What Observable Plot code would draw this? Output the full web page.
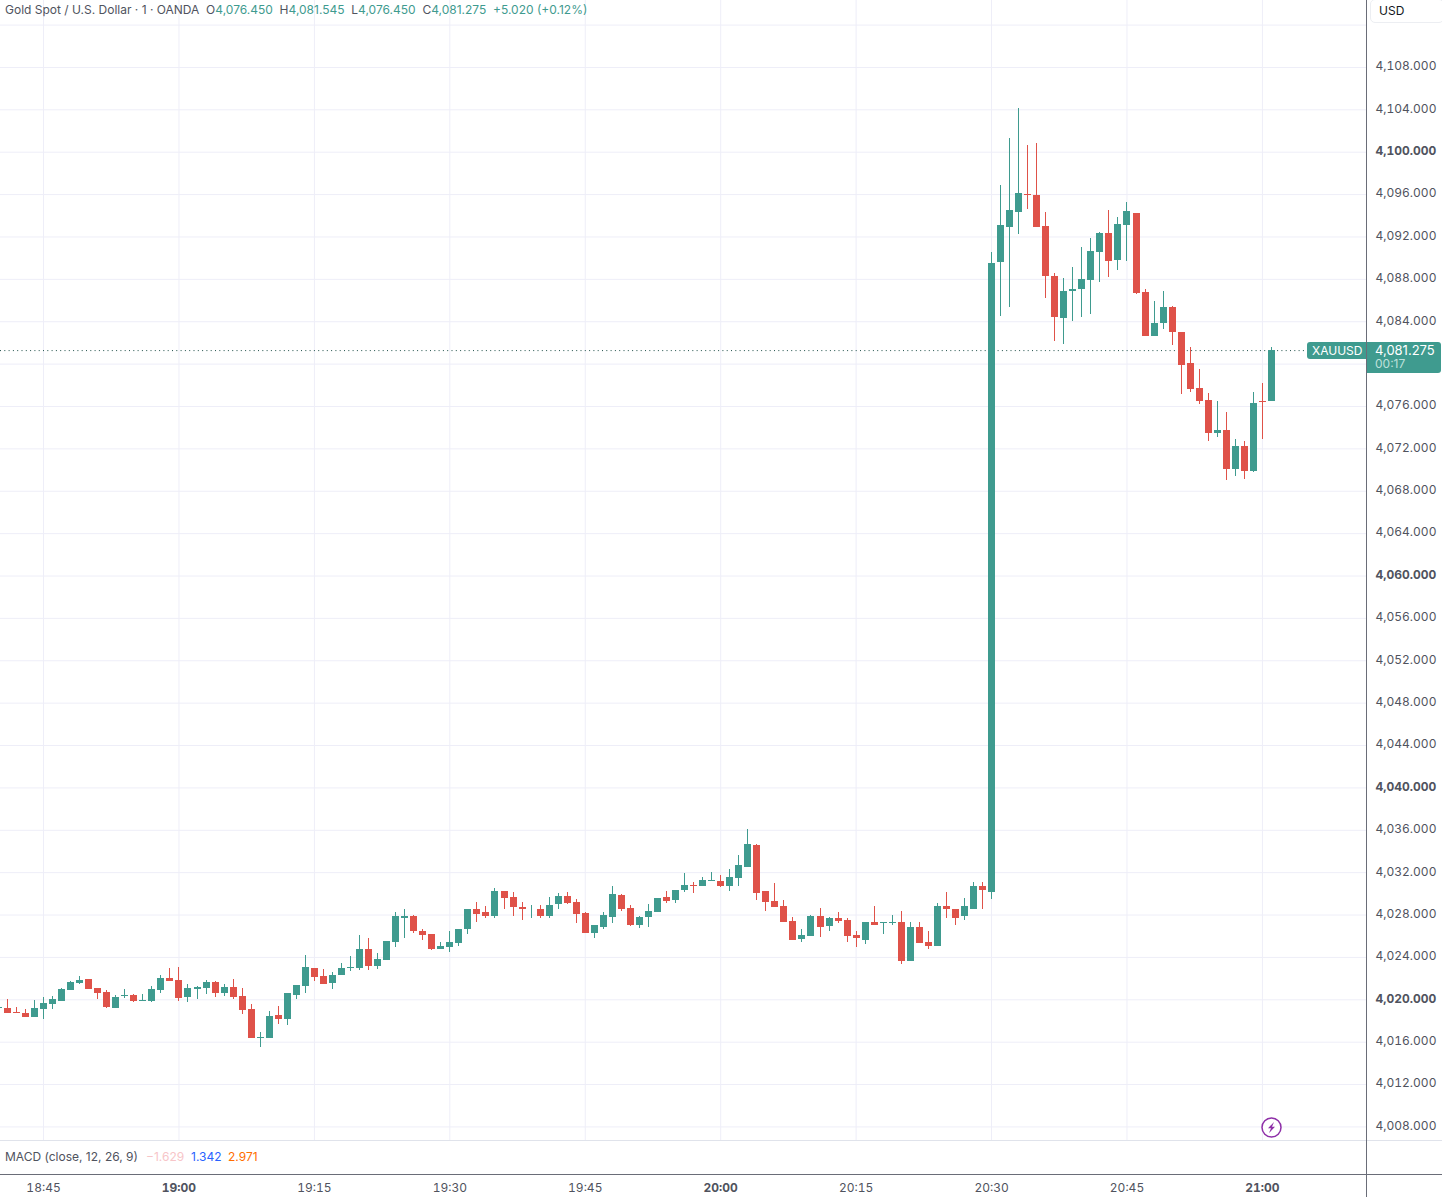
<!DOCTYPE html>
<html>
<head>
<meta charset="utf-8">
<script src="https://cdn.jsdelivr.net/npm/d3@7"></script>
<script src="https://cdn.jsdelivr.net/npm/@observablehq/plot@0.6"></script>
<style>
  html, body { margin: 0; padding: 0; background: #fff; }
  #wrap { position: relative; width: 1442px; height: 1197px; overflow: hidden; font-family: Inter, "Noto Sans", sans-serif; color: #50535e; }
  #wrap > div { position: absolute; white-space: nowrap; }
  .h { font-size: 12px; line-height: 16px; }
  .g { color: #3f9b8f; }
</style>
</head>
<body>
<div id="wrap"></div>
<script>
const startMinute = Date.UTC(2025, 0, 1, 18, 40);

const opens = [
  4019.18,4019.18,4018.80,4018.71,4018.33,4019.09,4019.56,4019.84,4020.88,4021.55,
  4021.92,4021.07,4020.69,4019.18,4020.32,4020.41,4019.84,4019.84,4020.88,4022.02,
  4021.83,4020.22,4020.98,4021.07,4021.64,4020.60,4021.17,4020.32,4019.09,4016.34,
  4016.34,4018.52,4018.14,4020.41,4021.26,4022.97,4022.21,4021.57,4022.33,4022.99,
  4022.99,4024.79,4023.18,4023.75,4025.45,4027.72,4027.82,4026.49,4026.21,4024.79,
  4024.98,4025.36,4026.68,4028.57,4028.20,4027.82,4030.18,4029.62,4028.67,4028.48,
  4028.48,4027.82,4028.95,4029.71,4029.14,4028.10,4026.30,4026.87,4027.75,4029.83,
  4028.60,4026.99,4027.75,4028.22,4029.64,4029.36,4030.30,4030.78,4030.68,4031.16,
  4031.16,4030.68,4031.44,4032.48,4034.56,4030.21,4029.26,4028.79,4027.37,4025.67,
  4025.95,4027.84,4026.90,4027.65,4027.44,4026.11,4025.64,4027.25,4027.16,4027.16,
  4027.25,4023.65,4026.78,4025.45,4025.07,4028.76,4028.57,4027.82,4028.57,4030.66,
  4030.09,4089.62,4092.93,4094.35,4096.05,4095.96,4093.02,4088.29,4084.32,4086.87,
  4087.06,4087.91,4090.56,4092.36,4089.81,4093.12,4094.25,4086.78,4082.61,4083.82,
  4085.33,4082.97,4080.03,4077.67,4076.53,4073.41,4073.69,4070.09,4072.18,4069.90,
  4076.43,4076.45
];
const highs = [
  4019.27,4020.03,4019.31,4019.05,4019.94,4020.22,4020.32,4021.07,4021.74,4022.21,
  4021.92,4021.07,4020.88,4020.41,4020.98,4020.50,4020.50,4021.26,4022.30,4022.97,
  4023.06,4021.45,4021.26,4021.83,4021.74,4021.45,4021.92,4021.07,4019.56,4016.91,
  4018.90,4019.37,4020.60,4021.36,4024.20,4022.97,4022.87,4022.61,4023.46,4024.13,
  4026.11,4025.74,4024.41,4025.55,4028.20,4028.48,4027.91,4026.68,4026.21,4025.45,
  4026.40,4026.68,4028.57,4029.14,4028.76,4030.47,4030.18,4030.09,4029.14,4028.86,
  4028.86,4029.62,4029.99,4030.09,4029.43,4028.20,4026.97,4028.20,4030.68,4029.92,
  4028.88,4027.84,4028.98,4029.55,4030.21,4030.30,4031.91,4031.06,4031.53,4032.01,
  4031.72,4032.29,4033.62,4036.08,4034.66,4030.21,4030.97,4029.36,4027.75,4026.61,
  4027.94,4028.60,4027.75,4028.22,4027.63,4026.49,4027.34,4028.76,4027.25,4027.91,
  4028.29,4027.25,4027.34,4026.49,4029.05,4030.09,4028.57,4029.52,4031.04,4031.04,
  4090.56,4096.90,4101.26,4104.10,4100.60,4100.78,4094.35,4088.57,4088.10,4089.14,
  4091.04,4091.89,4092.46,4094.54,4093.88,4095.29,4094.25,4087.06,4085.92,4086.85,
  4085.43,4082.97,4081.55,4079.46,4077.19,4076.43,4075.39,4072.84,4072.74,4077.29,
  4078.14,4081.545
];
const lows = [
  4019.18,4018.71,4018.71,4018.33,4018.33,4018.14,4019.09,4019.84,4020.88,4021.45,
  4020.98,4020.03,4019.18,4019.18,4020.13,4019.75,4019.84,4019.75,4020.60,4021.74,
  4019.84,4019.75,4020.03,4020.50,4020.22,4020.32,4020.03,4018.61,4016.34,4015.49,
  4016.34,4017.67,4017.57,4020.03,4020.60,4021.74,4021.45,4021.00,4022.33,4022.71,
  4022.80,4022.80,4022.90,4023.75,4024.98,4025.74,4026.30,4025.64,4024.69,4024.79,
  4024.50,4025.07,4026.21,4027.25,4027.72,4027.63,4028.57,4027.82,4027.53,4027.72,
  4027.63,4027.63,4028.57,4028.95,4027.16,4026.30,4025.83,4026.59,4027.18,4028.32,
  4026.90,4026.71,4026.80,4028.22,4029.07,4029.07,4030.11,4030.02,4030.68,4031.16,
  4030.59,4030.21,4030.68,4032.48,4029.36,4028.32,4028.69,4027.27,4025.57,4025.38,
  4025.95,4025.85,4026.42,4027.18,4025.45,4024.98,4025.26,4027.06,4026.21,4027.06,
  4023.37,4023.65,4025.36,4024.79,4025.07,4027.72,4026.97,4027.44,4028.57,4028.48,
  4029.43,4084.50,4085.36,4092.27,4094.63,4092.93,4086.21,4082.14,4081.85,4084.03,
  4084.41,4084.69,4087.72,4088.20,4088.86,4089.71,4086.59,4082.61,4082.61,4083.25,
  4081.74,4077.10,4077.29,4076.15,4072.74,4073.12,4069.05,4069.43,4069.15,4069.81,
  4072.93,4076.45
];
const closes = [
  4019.27,4018.71,4018.71,4018.33,4019.18,4019.65,4020.03,4020.98,4021.64,4021.83,
  4020.98,4020.60,4019.27,4020.22,4020.41,4019.84,4019.94,4020.98,4022.02,4021.74,
  4020.13,4021.07,4021.17,4021.64,4020.60,4021.17,4020.22,4018.99,4016.34,4016.43,
  4018.42,4018.14,4020.60,4021.36,4023.06,4022.11,4021.45,4022.33,4022.99,4023.09,
  4024.79,4023.18,4023.84,4025.55,4027.82,4027.82,4026.40,4026.11,4024.79,4025.07,
  4025.45,4026.68,4028.57,4028.01,4027.82,4030.18,4029.52,4028.67,4028.48,4028.57,
  4027.82,4028.86,4029.71,4029.05,4028.01,4026.30,4026.97,4027.91,4029.92,4028.50,
  4026.99,4027.75,4028.32,4029.55,4029.26,4030.30,4030.78,4030.68,4031.25,4031.25,
  4030.68,4031.53,4032.67,4034.66,4030.02,4029.17,4028.69,4027.27,4025.57,4026.04,
  4027.84,4026.80,4027.65,4027.37,4026.02,4025.74,4027.25,4027.06,4027.25,4027.25,
  4023.65,4026.78,4025.36,4025.07,4028.76,4028.48,4027.72,4028.76,4030.66,4030.28,
  4089.52,4093.12,4094.54,4096.15,4095.96,4092.93,4088.29,4084.41,4086.87,4087.06,
  4088.01,4090.66,4092.36,4089.71,4093.21,4094.44,4086.68,4082.61,4083.84,4085.33,
  4082.97,4079.84,4077.57,4076.43,4073.41,4073.78,4070.09,4072.18,4069.90,4076.25,
  4076.34,4081.275
];

const gridPrices = [4008,4012,4016,4020,4024,4028,4032,4036,4040,4044,4048,4052,4056,4060,4064,4068,4072,4076,4080,4084,4088,4092,4096,4100,4104,4108,4112];
const hiddenPriceLabels = [4080,4112];
const boldPrices = [4020,4040,4060,4100];
const timeLabels = ["18:45","19:00","19:15","19:30","19:45","20:00","20:15","20:30","20:45","21:00"];
const boldTimes = ["19:00","20:00","21:00"];
const lastClose = 4081.275;

const UP = "#3f9b8f", DOWN = "#df5249", GRID = "#eeeef8", TEXT = "#50535e";
const toDate = s => { const [h, m] = s.split(":").map(Number); return new Date(Date.UTC(2025, 0, 1, h, m)); };
const candles = opens.map((o, i) => ({
  t: new Date(startMinute + i * 60000),
  o, h: highs[i], l: lows[i], c: closes[i],
  color: closes[i] >= o ? UP : DOWN
}));
const priceFmt = d3.format(",.3f");
const timeFmt = d3.utcFormat("%H:%M");
const normalPrices = gridPrices.filter(p => !boldPrices.includes(p) && !hiddenPriceLabels.includes(p));
const normalTimes = timeLabels.filter(t => !boldTimes.includes(t)).map(toDate);

const chart = Plot.plot({
  width: 1442, height: 1197,
  marginLeft: 0, marginRight: 75.5, marginTop: 0, marginBottom: 57,
  style: { background: "#fff", fontFamily: 'Inter, "Noto Sans", sans-serif', color: TEXT },
  x: { type: "utc", domain: [new Date(Date.UTC(2025,0,1,18,40,14.9)), new Date(Date.UTC(2025,0,1,21,11,35.3))], label: null },
  y: { domain: [4006.72, 4114.32], label: null },
  marks: [
    Plot.gridY(gridPrices, { stroke: GRID, strokeOpacity: 1 }),
    Plot.gridX(timeLabels.map(toDate), { stroke: GRID, strokeOpacity: 1 }),
    Plot.ruleY([lastClose], { stroke: "#1f4f49", strokeDasharray: "1 3.3" }),
    Plot.ruleX(candles, { x: "t", y1: "l", y2: "h", stroke: "color", strokeWidth: 1, shapeRendering: "crispEdges" }),
    Plot.ruleX(candles, { x: "t", y1: "o", y2: "c", stroke: "color", strokeWidth: 7, shapeRendering: "crispEdges" }),
    Plot.axisY(normalPrices, { anchor: "right", tickSize: 0, tickPadding: 8.5, dy: -1, tickFormat: priceFmt, fontSize: 12, fill: TEXT, label: null }),
    Plot.axisY(boldPrices, { anchor: "right", tickSize: 0, tickPadding: 8.5, dy: -1, tickFormat: priceFmt, fontSize: 12, fontWeight: 700, fill: TEXT, label: null }),
    Plot.axisX(normalTimes, { anchor: "bottom", tickSize: 0, tickPadding: 43, tickFormat: timeFmt, fontSize: 12, fill: TEXT, label: null }),
    Plot.axisX(boldTimes.map(toDate), { anchor: "bottom", tickSize: 0, tickPadding: 43, tickFormat: timeFmt, fontSize: 12, fontWeight: 700, fill: TEXT, label: null })
  ]
});

const wrap = document.getElementById("wrap");
wrap.appendChild(chart);
wrap.insertAdjacentHTML("beforeend", `
  <div class="h" style="left:5px;top:2px;color:#50535e">Gold Spot / U.S. Dollar · 1 · OANDA&nbsp; O<span class="g">4,076.450</span>&nbsp; H<span class="g">4,081.545</span>&nbsp; L<span class="g">4,076.450</span>&nbsp; C<span class="g">4,081.275</span>&nbsp; <span class="g">+5.020 (+0.12%)</span></div>
  <div style="left:0;top:1140px;width:1442px;height:1px;background:#e0e3eb"></div>
  <div style="left:0;top:1174px;width:1442px;height:1px;background:#6a6d78"></div>
  <div style="left:1366px;top:0;width:1px;height:1197px;background:#6a6d78"></div>
  <div style="left:1370px;top:-1px;width:74px;height:24px;background:#fff;border:1px solid #eceef2;border-radius:5px;box-sizing:border-box"></div>
  <div style="left:1379px;top:3px;font-size:12px;line-height:16px;color:#131722">USD</div>
  <div style="left:5px;top:1149px;font-size:12px;line-height:16px;color:#50535e">MACD (close, 12, 26, 9)</div>
  <div style="left:146px;top:1149px;font-size:12px;line-height:16px;color:#f7c5c8">−1.629</div>
  <div style="left:191px;top:1149px;font-size:12px;line-height:16px;color:#2962ff">1.342</div>
  <div style="left:228px;top:1149px;font-size:12px;line-height:16px;color:#ff6d00">2.971</div>
  <div style="left:1307px;top:342px;width:59px;height:17px;background:#3f9b8f;border-radius:3px 0 0 3px;color:#fff;font-size:12px;line-height:17px;text-indent:5px">XAUUSD</div>
  <div style="left:1367px;top:342px;width:74px;height:31px;background:#3f9b8f;border-radius:0 3px 3px 0"></div>
  <div style="left:1375px;top:343px;font-size:13px;line-height:14px;color:#fff">4,081.275</div>
  <div style="left:1375px;top:357px;font-size:12px;line-height:14px;color:#bfe0db">00:17</div>
  <div style="left:1261px;top:1117px;width:21px;height:21px">
    <svg width="21" height="21" viewBox="0 0 21 21"><circle cx="10.5" cy="10.5" r="9.5" fill="#fff" stroke="#8e2fa8" stroke-width="1.5"/><path d="M13 5 L7 11.2 L10 11.2 L8 16 L14 9.8 L11 9.8 Z" fill="#8e2fa8"/></svg>
  </div>
`);
</script>
</body>
</html>
